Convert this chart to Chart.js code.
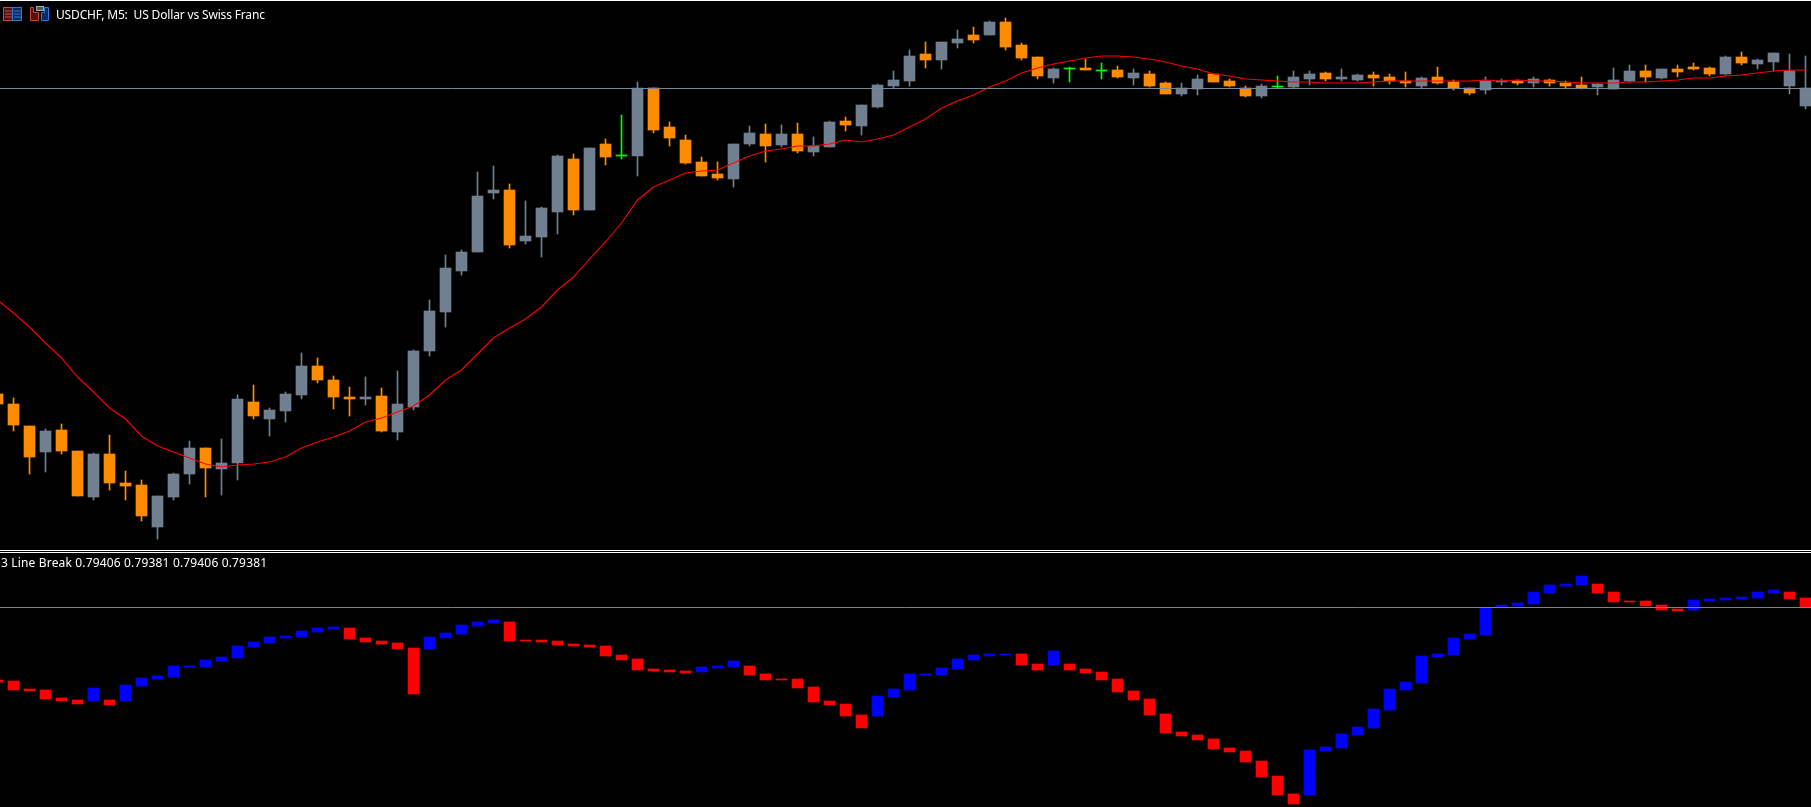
<!DOCTYPE html>
<html>
<head>
<meta charset="utf-8">
<title>USDCHF, M5</title>
<script src="https://cdn.jsdelivr.net/npm/chart.js@4"></script>
<style>
  html, body { margin: 0; padding: 0; background: #000; overflow: hidden; }
  body { position: relative; width: 1811px; height: 807px; }
  canvas { position: absolute; left: 0; display: block; }
  #price-pane { top: 1px; }
  #break-pane { top: 553px; }
  .rule { position: absolute; left: 0; width: 1811px; height: 1px; background: #fff; }
  .label {
    position: absolute; color: #fff; white-space: pre;
    font: 12px "Noto Sans", sans-serif; line-height: 14px;
  }
  #icons { position: absolute; left: 0; top: 0; }
</style>
</head>
<body>
<canvas id="price-pane" width="1811" height="549"></canvas>
<canvas id="break-pane" width="1811" height="254"></canvas>
<div class="rule" style="top:0"></div>
<div class="rule" style="top:550px"></div>
<div class="rule" style="top:552px"></div>

<svg id="icons" width="56" height="26">
  <rect x="3.5" y="7.5" width="9" height="13" fill="#4a1512" stroke="#d0453f"/>
  <rect x="12.5" y="7.5" width="9" height="13" fill="#0e2a55" stroke="#2f78e0"/>
  <path d="M5 11h7M5 14h7M5 17h7" stroke="#d0453f"/>
  <path d="M14 11h7M14 14h7M14 17h7" stroke="#2f78e0"/>
  <path d="M30.5 7.5h3v5h5v8h-8z" fill="#4a1512" stroke="#d0453f"/>
  <path d="M41.5 12.5h3v-5h4v13h-7z" fill="#0e2a55" stroke="#2f78e0"/>
  <rect x="36.5" y="6.5" width="7" height="4" fill="#555" stroke="#aaa"/>
</svg>
<div class="label" style="left:56px;top:8px;letter-spacing:-0.16px">USDCHF, M5:  US Dollar vs Swiss Franc</div>
<div class="label" style="left:1px;top:556px;letter-spacing:0.16px">3 Line Break 0.79406 0.79381 0.79406 0.79381</div>

<script>
// 所有數值都是從圖上讀的，單位是「從窗格底部往上算的點數」
const candleOpen = [
  156,146,124,98,120,99,53,96,67,65,
  23,53,76,102,81,87,148,131,139,155,
  184,170,153,151,154,118,143,199,238,279,
  298,357,360,309,313,338,391,340,406,394,
  394,462,423,410,388,376,371,406,416,405,
  416,398,403,429,424,443,464,469,496,490,
  507,515,515,528,505,493,472,481,482,479,
  480,472,476,467,456,461,476,469,462,454,
  463,463,471,477,471,470,475,473,469,464,
  473,468,462,460,468,469,467,470,467,465,
  463,461,469,479,472,481,483,482,476,493,
  486,488,464,444
];
const candleClose = [
  146,125,93,119,99,54,96,67,64,34,
  54,76,102,82,87,151,134,140,156,184,
  170,153,151,153,119,146,199,239,282,298,
  354,360,305,314,342,394,340,402,393,394,
  462,420,412,387,374,372,406,417,404,416,
  399,404,428,425,445,465,470,494,490,508,
  511,510,528,503,492,474,481,481,480,479,
  473,477,464,456,462,471,468,464,454,464,
  463,473,476,471,473,475,472,469,467,472,
  467,462,457,469,469,467,471,467,464,462,
  466,470,479,473,481,478,481,476,493,487,
  490,497,479,462
];
const candleHigh = [
  156,152,124,121,126,99,97,115,79,70,
  54,77,109,102,111,155,165,142,158,197,
  192,174,163,173,162,179,200,250,295,300,
  378,384,366,349,343,395,396,402,411,435,
  468,462,428,415,393,388,406,424,426,425,
  427,413,429,433,445,466,479,500,508,508,
  520,523,529,532,507,493,482,483,491,487,
  484,481,479,468,467,475,476,471,464,466,
  474,479,479,478,481,476,478,476,478,473,
  483,470,462,473,471,470,473,471,469,473,
  466,482,485,485,481,485,487,483,494,498,
  491,497,496,494
];
const candleLow = [
  146,119,76,78,96,54,50,60,50,29,
  11,50,66,53,55,70,131,114,128,151,
  167,141,134,145,118,110,140,194,223,275,
  298,351,302,306,293,316,335,340,385,391,
  374,417,404,386,374,370,363,404,388,403,
  397,394,403,419,415,442,462,464,482,481,
  502,507,515,500,490,471,467,468,480,471,
  472,465,463,456,454,455,468,463,453,452,
  462,462,465,469,469,469,464,466,463,462,
  466,460,455,456,465,465,463,464,462,461,
  455,461,468,468,471,473,480,474,475,485,
  481,479,456,441
];
const movingAverage = [
  250,237,223,207,192,173,158,142,131,114,
  104,98,92,86,83,85,86,88,93,102,
  108,113,119,128,132,138,144,155,170,180,
  196,212,222,231,243,260,273,291,308,327,
  350,363,370,377,379,380,387,394,399,401,
  404,404,406,410,408,411,415,423,431,442,
  449,455,463,469,477,482,486,489,492,494,
  494,493,491,488,484,481,476,474,471,470,
  469,468,468,467,467,467,468,469,469,469,
  469,469,469,470,469,470,469,469,468,467,
  467,467,468,468,469,470,472,472,474,475,
  477,479,480,480
];
const lastPriceLevel = 461.5;

const breakOpen = [
  127,126,118,117,109,107,106,107,106,121,
  128,130,140,140,146,149,160,164,169,170,
  175,178,179,169,166,164,159,158,169,173,
  181,184,185,167,167,166,163,162,161,152,
  148,138,137,136,135,139,140,141,133,128,
  128,120,106,103,92,91,110,117,132,132,
  138,147,151,152,153,143,142,143,138,135,
  128,116,108,93,75,72,68,59,56,46,
  31,13,12,56,59,72,79,97,117,124,
  150,152,168,172,200,201,203,214,221,222,
  223,215,206,206,202,198,197,206,207,208,
  209,214,215,209
];
const breakClose = [
  125,117,116,108,106,103,119,102,122,129,
  131,141,141,147,150,161,165,170,171,176,
  179,180,168,165,163,158,113,170,174,182,
  185,187,166,166,165,162,161,160,151,147,
  137,136,135,134,140,141,146,132,127,127,
  119,105,102,91,79,111,118,133,133,139,
  148,152,153,153,142,137,156,137,134,127,
  115,107,92,74,71,67,58,55,45,30,
  12,3,57,60,73,80,98,118,125,151,
  153,169,173,199,202,204,215,222,223,231,
  214,205,205,201,197,196,207,208,209,210,
  215,217,208,200
];
const breakLevel = 199.5;

const SLATE = "#708090";
const ORANGE = "#FF8C00";
const LIME = "#00FF00";
const RED = "#FF0000";
const BLUE = "#0000FF";

const indexes = candleOpen.map((_, i) => i);
// 第 i 根 K 棒中心在 16i - 2.5 px
const xMin = 2.5 / 16;
const xMax = (1811 + 2.5) / 16;

const candleColor = (i) => {
  if (candleClose[i] > candleOpen[i]) return SLATE;
  if (candleClose[i] < candleOpen[i]) return ORANGE;
  return LIME;
};

function paneOptions(yMax) {
  return {
    responsive: false,
    animation: false,
    events: [],
    layout: { padding: 0 },
    plugins: { legend: { display: false }, tooltip: { enabled: false }, title: { display: false } },
    scales: {
      x: { type: "linear", display: false, offset: false, bounds: "data", min: xMin, max: xMax },
      y: { type: "linear", display: false, bounds: "data", min: 0, max: yMax }
    }
  };
}

function levelDataset(value, color) {
  return {
    type: "line",
    data: [{ x: xMin, y: value }, { x: xMax, y: value }],
    borderColor: color,
    borderWidth: 1,
    pointRadius: 0,
    order: 0
  };
}

new Chart(document.getElementById("price-pane").getContext("2d"), {
  type: "bar",
  data: {
    datasets: [
      levelDataset(lastPriceLevel, "#778899"),
      {
        type: "line",
        data: indexes.map(i => ({ x: i, y: movingAverage[i] })),
        borderColor: RED,
        borderWidth: 1.1,
        pointRadius: 0,
        tension: 0,
        order: 1
      },
      {
        data: indexes.map(i => ({ x: i, y: [candleOpen[i], candleClose[i]] })),
        backgroundColor: indexes.map(candleColor),
        barThickness: 11,
        minBarLength: 1,
        grouped: false,
        order: 2
      },
      {
        data: indexes.map(i => ({ x: i, y: [candleLow[i], candleHigh[i]] })),
        backgroundColor: indexes.map(candleColor),
        barThickness: 1,
        grouped: false,
        order: 3
      }
    ]
  },
  options: paneOptions(549)
});

new Chart(document.getElementById("break-pane").getContext("2d"), {
  type: "bar",
  data: {
    datasets: [
      levelDataset(breakLevel, "#808080"),
      {
        data: indexes.map(i => ({ x: i, y: [breakOpen[i], breakClose[i]] })),
        backgroundColor: indexes.map(i => breakClose[i] > breakOpen[i] ? BLUE : RED),
        barThickness: 11,
        grouped: false,
        order: 1
      }
    ]
  },
  options: paneOptions(254)
});
</script>
</body>
</html>
